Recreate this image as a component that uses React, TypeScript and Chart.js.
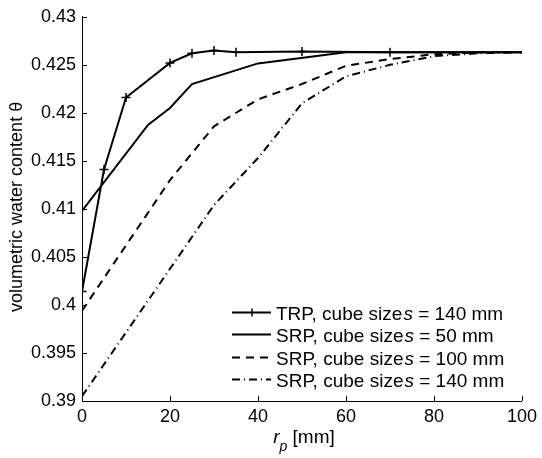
import React, { useEffect, useRef } from "react";
import { Chart, registerables } from "chart.js";

Chart.register(...registerables);

// ---- data ----
const trpX = [0, 5, 10, 20, 25, 30, 35, 50, 70, 100];
const trpY = [0.4014, 0.4141, 0.4216, 0.4252, 0.4262, 0.4265, 0.4263, 0.4264, 0.4263, 0.4263];
const trpMarkers = [true, true, true, true, true, true, true, true, true, false];

const srp50X = [0, 15, 20, 25, 40, 60, 100];
const srp50Y = [0.4098, 0.41875, 0.4205, 0.423, 0.42515, 0.4263, 0.4263];

const srp100X = [0, 20, 30, 40, 50, 60, 70, 80, 90, 100];
const srp100Y = [0.3994, 0.413, 0.4186, 0.4214, 0.423, 0.4249, 0.4256, 0.4261, 0.4263, 0.4263];

const srp140X = [0, 30, 40, 50, 60, 70, 80, 90, 100];
const srp140Y = [0.3905, 0.4104, 0.4153, 0.421, 0.4238, 0.425, 0.4259, 0.4262, 0.4263];

const xTicks = [0, 20, 40, 60, 80, 100];
const yTicks = [0.39, 0.395, 0.4, 0.405, 0.41, 0.415, 0.42, 0.425, 0.43];
const yTickLabels = ["0.39", "0.395", "0.4", "0.405", "0.41", "0.415", "0.42", "0.425", "0.43"];

const legendPrefixes = ["TRP, cube size", "SRP, cube size", "SRP, cube size", "SRP, cube size"];
const legendSuffixes = [" = 140 mm", " = 50 mm", " = 100 mm", " = 140 mm"];

const yTitle = "volumetric water content θ";

const FONT = 'Arial, "Liberation Sans", sans-serif';
const FS = 18;
const LFS = 19;
const DASHED = [8, 6];
const DASHDOT = [8, 4, 1, 4];

const toPts = (xs: number[], ys: number[]) => xs.map((x, i) => ({ x, y: ys[i] }));

const overlayPlugin = {
  id: "overlay",
  afterDraw(chart: any) {
    const ctx: CanvasRenderingContext2D = chart.ctx;
    const { left, right, top, bottom } = chart.chartArea;
    const xs = chart.scales.x;
    const ys = chart.scales.y;
    ctx.save();
    ctx.strokeStyle = "#000";
    ctx.fillStyle = "#000";
    ctx.lineWidth = 1;
    ctx.setLineDash([]);
    // inward ticks
    ctx.beginPath();
    yTicks.forEach((v) => {
      const py = Math.round(ys.getPixelForValue(v)) + 0.5;
      ctx.moveTo(left, py);
      ctx.lineTo(left + 5, py);
    });
    xTicks.forEach((v) => {
      const px = Math.round(xs.getPixelForValue(v)) + 0.5;
      ctx.moveTo(px, bottom);
      ctx.lineTo(px, bottom - 5);
    });
    ctx.stroke();

    // x axis title: r_p [mm]
    const cx = (left + right) / 2 + 2;
    const base = 443;
    ctx.textBaseline = "alphabetic";
    ctx.textAlign = "left";
    ctx.font = `italic ${LFS}px ${FONT}`;
    const wr = ctx.measureText("r").width;
    ctx.font = `italic 14px ${FONT}`;
    const wp = ctx.measureText("p").width;
    ctx.font = `${LFS}px ${FONT}`;
    const wm = ctx.measureText(" [mm]").width;
    let sx = cx - (wr + wp + wm) / 2;
    ctx.font = `italic ${LFS}px ${FONT}`;
    ctx.fillText("r", sx, base);
    sx += wr;
    ctx.font = `italic 14px ${FONT}`;
    ctx.fillText("p", sx, base + 8);
    sx += wp;
    ctx.font = `${LFS}px ${FONT}`;
    ctx.fillText(" [mm]", sx, base);

    // y axis title
    ctx.save();
    ctx.translate(22, (top + bottom) / 2 - 2);
    ctx.rotate(-Math.PI / 2);
    ctx.textAlign = "center";
    ctx.font = `${FS}px ${FONT}`;
    ctx.fillText(yTitle, 0, 0);
    ctx.restore();

    // legend
    const lx = left + 150;
    const rows = [bottom - 89, bottom - 67, bottom - 44.5, bottom - 22];
    chart.data.datasets.forEach((ds: any, i: number) => {
      const ry = Math.round(rows[i]) + 0.5;
      ctx.lineWidth = 2;
      ctx.setLineDash(ds.borderDash || []);
      ctx.beginPath();
      ctx.moveTo(lx, ry);
      ctx.lineTo(lx + 39, ry);
      ctx.stroke();
      ctx.setLineDash([]);
      if (i === 0) {
        ctx.lineWidth = 1.5;
        ctx.beginPath();
        ctx.moveTo(lx + 20, ry - 4);
        ctx.lineTo(lx + 20, ry + 4);
        ctx.stroke();
      }
      let tx = lx + 44;
      const tb = ry + 7;
      ctx.font = `${LFS}px ${FONT}`;
      ctx.textAlign = "left";
      ctx.fillText(legendPrefixes[i], tx, tb);
      tx += ctx.measureText(legendPrefixes[i]).width + 1;
      ctx.font = `italic ${LFS}px ${FONT}`;
      ctx.fillText("s", tx, tb);
      tx += ctx.measureText("s").width;
      ctx.font = `${LFS}px ${FONT}`;
      ctx.fillText(legendSuffixes[i], tx, tb);
    });
    ctx.restore();
  },
};

export default function App() {
  const ref = useRef<HTMLCanvasElement | null>(null);
  useEffect(() => {
    if (!ref.current) return;
    const chart = new Chart(ref.current, {
      type: "line",
      data: {
        datasets: [
          {
            label: "TRP, cube size s = 140 mm",
            data: toPts(trpX, trpY),
            borderColor: "#000",
            backgroundColor: "#000",
            borderWidth: 2,
            pointStyle: "cross",
            pointRadius: trpMarkers.map((m) => (m ? 4.5 : 0)),
            pointBorderWidth: 1.5,
            pointBorderColor: "#000",
            tension: 0,
          },
          {
            label: "SRP, cube size s = 50 mm",
            data: toPts(srp50X, srp50Y),
            borderColor: "#000",
            borderWidth: 2,
            pointRadius: 0,
            tension: 0,
          },
          {
            label: "SRP, cube size s = 100 mm",
            data: toPts(srp100X, srp100Y),
            borderColor: "#000",
            borderWidth: 2,
            borderDash: DASHED,
            pointRadius: 0,
            tension: 0,
          },
          {
            label: "SRP, cube size s = 140 mm",
            data: toPts(srp140X, srp140Y),
            borderColor: "#000",
            borderWidth: 2,
            borderDash: DASHDOT,
            pointRadius: 0,
            tension: 0,
          },
        ],
      },
      options: {
        animation: false,
        responsive: false,
        devicePixelRatio: 1,
        layout: { padding: { left: 0, top: 11, right: 15, bottom: 0 } },
        plugins: {
          legend: { display: false },
          tooltip: { enabled: false },
        },
        scales: {
          x: {
            type: "linear",
            min: 0,
            max: 100,
            afterFit: (s: any) => {
              s.height = 57;
            },
            afterBuildTicks: (s: any) => {
              s.ticks = xTicks.map((v) => ({ value: v }));
            },
            grid: { display: false, drawTicks: false },
            border: { display: true, color: "#000", width: 1 },
            ticks: {
              color: "#000",
              padding: 5,
              maxRotation: 0,
              font: { family: FONT, size: FS },
              callback: (v: any) => String(v),
            },
          },
          y: {
            type: "linear",
            min: 0.39,
            max: 0.43,
            afterFit: (s: any) => {
              s.width = 82;
            },
            afterBuildTicks: (s: any) => {
              s.ticks = yTicks.map((v) => ({ value: v }));
            },
            grid: { display: false, drawTicks: false },
            border: { display: true, color: "#000", width: 1 },
            ticks: {
              color: "#000",
              padding: 6,
              font: { family: FONT, size: FS },
              callback: (v: any) => {
                const i = yTicks.findIndex((t) => Math.abs(t - v) < 1e-9);
                return i >= 0 ? yTickLabels[i] : "";
              },
            },
          },
        },
      },
      plugins: [overlayPlugin],
    });
    return () => chart.destroy();
  }, []);
  return (
    <div style={{ position: "fixed", left: 0, top: 0, width: 542, height: 458, background: "#fff" }}>
      <canvas ref={ref} width={542} height={458} style={{ display: "block" }} />
    </div>
  );
}
